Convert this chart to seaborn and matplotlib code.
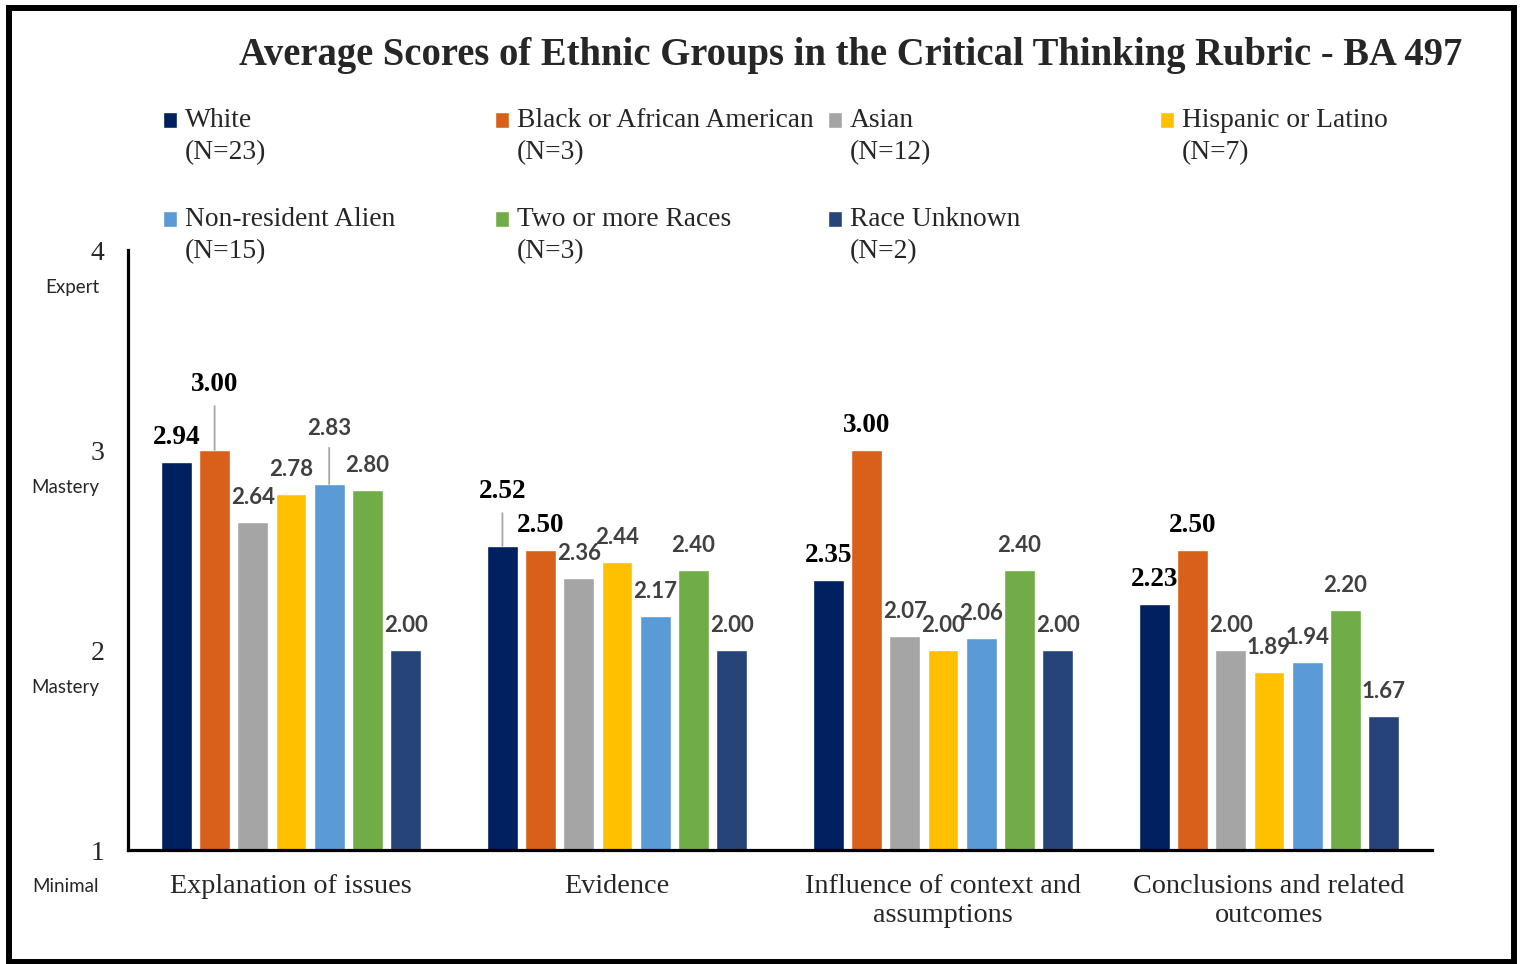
import matplotlib
matplotlib.use("Agg")
import matplotlib.pyplot as plt
import seaborn as sns
import pandas as pd
from matplotlib.patches import Rectangle
from matplotlib.legend_handler import HandlerPatch

# Data
categories = ["Explanation of issues", "Evidence",
              "Influence of context and\nassumptions",
              "Conclusions and related\noutcomes"]
groups = ["White", "Black or African American", "Asian", "Hispanic or Latino",
          "Non-resident Alien", "Two or more Races", "Race Unknown"]
group_n = [23, 3, 12, 7, 15, 3, 2]

white = [2.94, 2.52, 2.35, 2.23]
black = [3.00, 2.50, 3.00, 2.50]
asian = [2.64, 2.36, 2.07, 2.00]
hispanic = [2.78, 2.44, 2.00, 1.89]
nonresident = [2.83, 2.17, 2.06, 1.94]
two_or_more = [2.80, 2.40, 2.40, 2.20]
unknown = [2.00, 2.00, 2.00, 1.67]

ytick_values = [1, 2, 3, 4]
ytick_names = ["Minimal", "Mastery", "Mastery", "Expert"]

title = "Average Scores of Ethnic Groups in the Critical Thinking Rubric - BA 497"

series = [white, black, asian, hispanic, nonresident, two_or_more, unknown]
colors = ["#002060", "#D9601A", "#A5A5A5", "#FFC000", "#5B9BD5", "#70AD47", "#264478"]
labels = [f"{g}\n(N={n})" for g, n in zip(groups, group_n)]

rows = []
for lab, vals in zip(labels, series):
    for cat, v in zip(categories, vals):
        rows.append({"category": cat, "group": lab, "score": v})
df = pd.DataFrame(rows)

sns.set_style("white")
plt.rcParams["font.family"] = ["Liberation Serif", "DejaVu Sans"]
SANS = ["Lato", "DejaVu Sans"]

W, H = 1523, 964
fig = plt.figure(figsize=(W / 100, H / 100), dpi=100)
ax = fig.add_axes([128 / W, 114 / H, (1432 - 128) / W, 600 / H])

sns.barplot(data=df, x="category", y="score", hue="group", palette=colors,
            saturation=1, width=0.82, gap=0.19, ax=ax, legend=False)

ax.set_ylim(1, 4)
ax.set_xlim(-0.5, 3.5)
ax.set_xlabel("")
ax.set_ylabel("")
ax.set_yticks(ytick_values)
ax.set_yticklabels([str(v) for v in ytick_values], fontsize=20)
ax.tick_params(axis="y", length=0, pad=17)
ax.tick_params(axis="x", length=0, pad=17, labelsize=20.3)
for t in ax.get_xticklabels():
    t.set_linespacing(1.25)
for s in ["top", "right"]:
    ax.spines[s].set_visible(False)
for s in ["left", "bottom"]:
    ax.spines[s].set_color("black")
    ax.spines[s].set_linewidth(2.3)

# rubric names under the y tick numbers
for v, name in zip(ytick_values, ytick_names):
    ax.annotate(name, xy=(0, v), xycoords=("axes fraction", "data"),
                xytext=(-29, -37), textcoords="offset pixels",
                ha="right", va="center", fontsize=13.5, family=SANS)

# value labels; a few are lifted with a leader line like the original
lift = {(0, 1): 47, (0, 4): 40, (1, 0): 39}
for gi, cont in enumerate(ax.containers):
    for ci, bar in enumerate(cont):
        v = bar.get_height()
        x = bar.get_x() + bar.get_width() / 2
        dy = lift.get((ci, gi), 18)
        arrow = None
        if (ci, gi) in lift:
            arrow = dict(arrowstyle="-", color="#a6a6a6", lw=1.3,
                         relpos=(0.5, 0), shrinkA=4, shrinkB=0)
        if gi < 2:
            kw = dict(fontsize=19.5, color="black", fontweight="bold")
        else:
            kw = dict(fontsize=16, color="#404040", fontweight="bold", family=SANS)
        ax.annotate(f"{v:.2f}", xy=(x, v), xytext=(0, dy),
                    textcoords="offset points", ha="center", va="center",
                    arrowprops=arrow, **kw)


def top_square(legend, orig_handle, xdescent, ydescent, width, height, fontsize):
    return Rectangle((-xdescent, -ydescent + 0.6 * fontsize), width, height)


handles = [Rectangle((0, 0), 1, 1, facecolor=c) for c in colors]
col_x = [163, 495, 828, 1160]
col_items = [[0, 4], [1, 5], [2, 6], [3]]
for x, items in zip(col_x, col_items):
    leg = fig.legend([handles[i] for i in items], [labels[i] for i in items],
                     loc="upper left", bbox_to_anchor=(x / W, 1 - 108 / H),
                     frameon=False, fontsize=19.8, handlelength=0.52,
                     handleheight=0.52, handletextpad=0.28, labelspacing=1.52,
                     borderpad=0, borderaxespad=0,
                     handler_map={Rectangle: HandlerPatch(patch_func=top_square)})
    for t in leg.get_texts():
        t.set_linespacing(1.38)

fig.text(851 / W, 1 - 55 / H, title, fontsize=27.8, fontweight="bold",
         ha="center", va="center")

# border around the whole chart
fig.patches.append(Rectangle((9 / W, 2 / H), (1514 - 9) / W, (962 - 8) / H,
                             transform=fig.transFigure, fill=False,
                             edgecolor="black", linewidth=4.3))

fig.savefig("out.png", dpi=100)
